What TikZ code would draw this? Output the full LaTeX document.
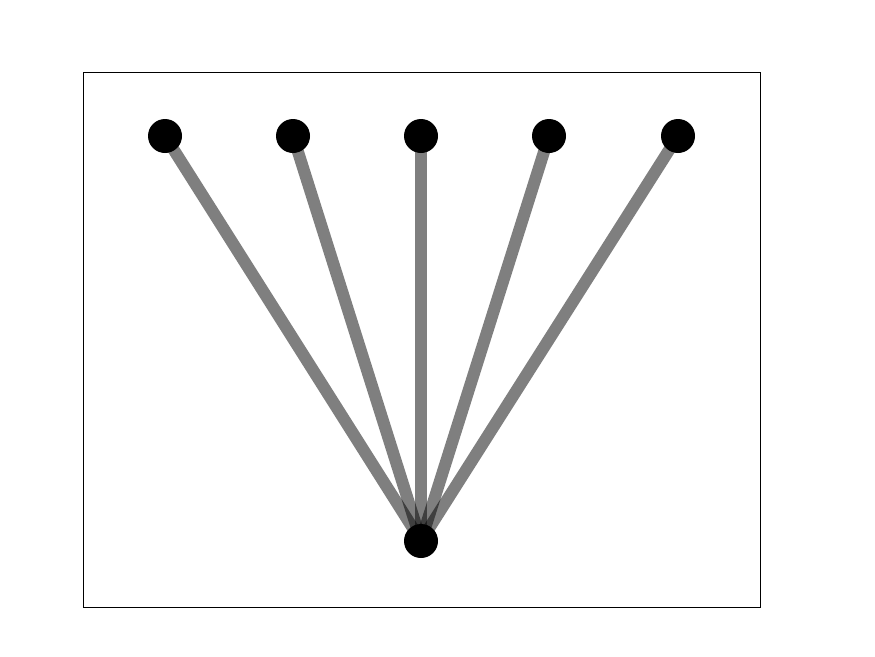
\documentclass[tikz,border=0pt]{standalone}
\begin{document}
\begin{tikzpicture}[x=1pt,y=-1pt,
  vert/.style={circle,fill=black,minimum size=34pt,inner sep=0pt},
  edge/.style={draw=black,draw opacity=0.5,line width=12pt}]
\useasboundingbox (0,0) rectangle (875,656);
\draw[line width=0.8pt] (83,72) rectangle (760,607);
\coordinate (a) at (165,136);
\coordinate (b) at (293,136);
\coordinate (c) at (421,136);
\coordinate (d) at (549,136);
\coordinate (e) at (678,136);
\coordinate (f) at (421,541);
\foreach \n in {a,b,c,d,e}{
  \path[edge] (f) -- (\n);
}
\foreach \n in {a,b,c,d,e,f}{
  \node[vert] (v\n) at (\n) {};
}
\end{tikzpicture}
\end{document}
